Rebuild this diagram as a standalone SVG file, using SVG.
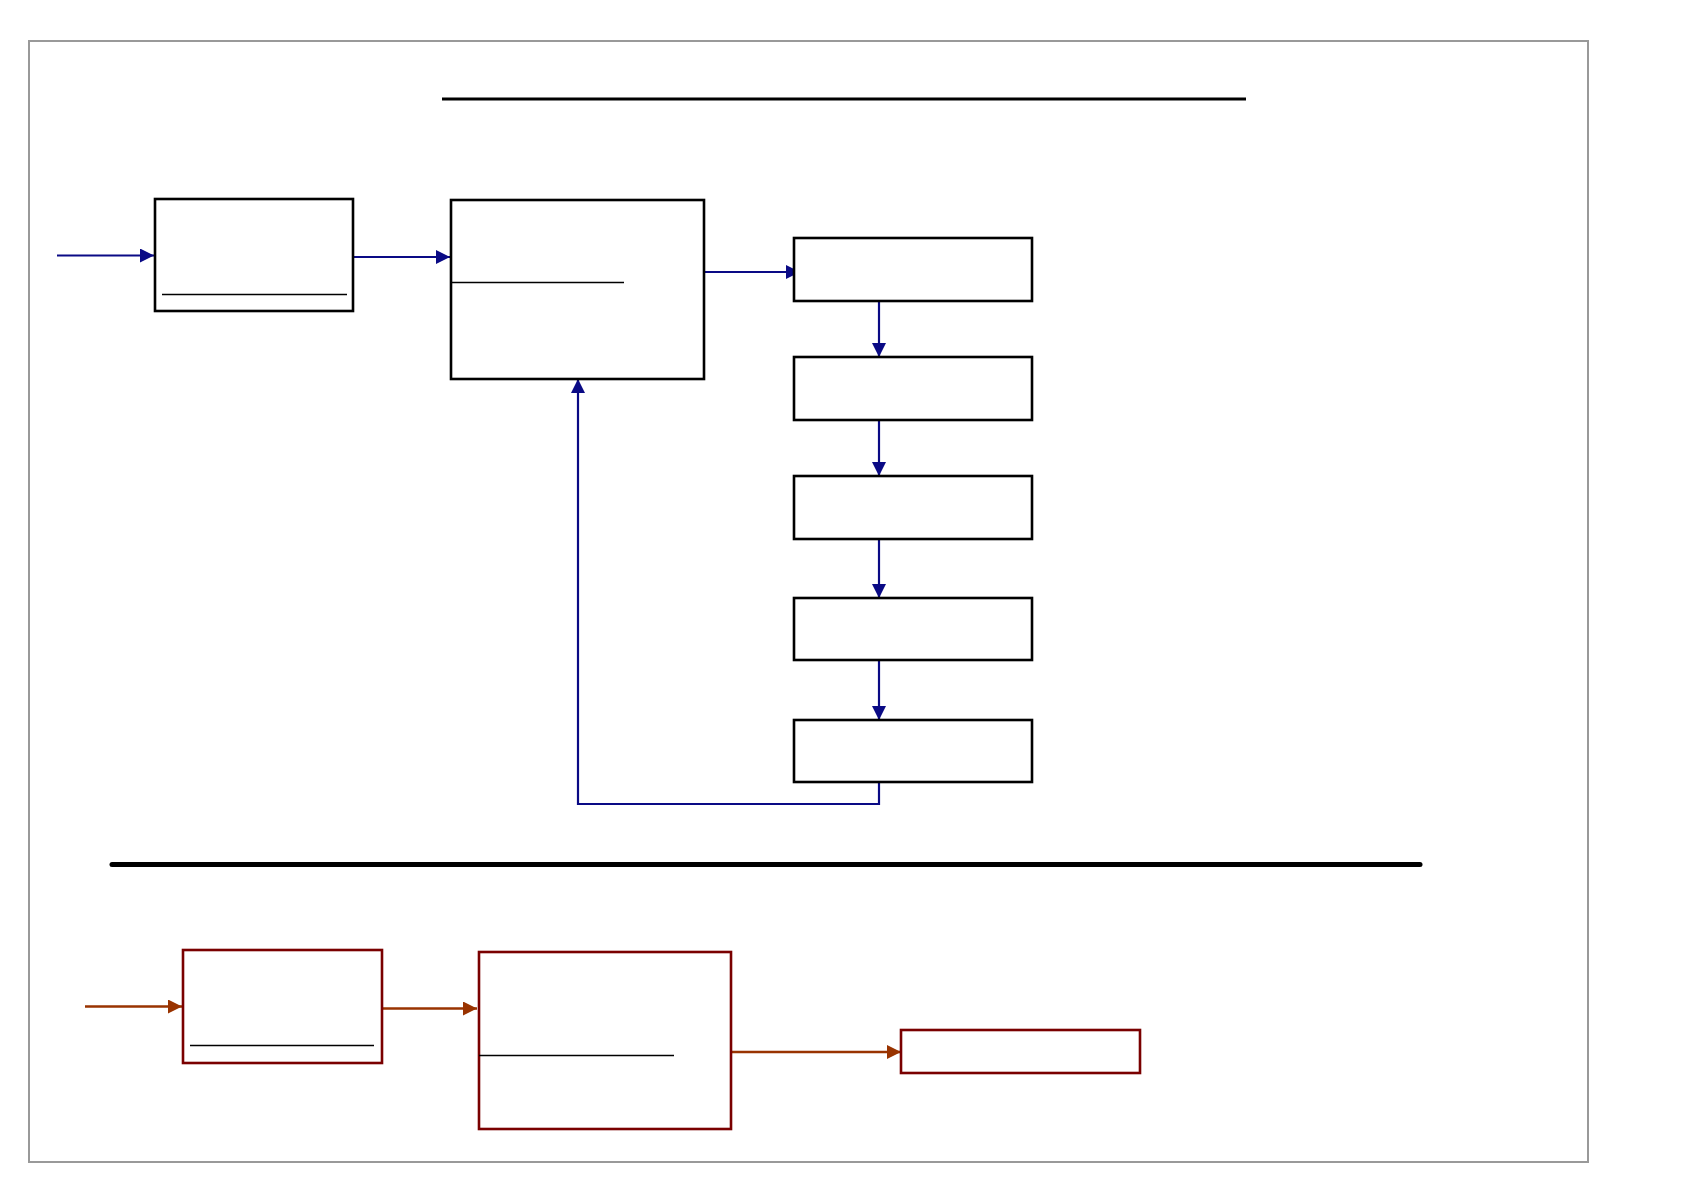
<svg xmlns="http://www.w3.org/2000/svg" width="1684" height="1190" viewBox="0 0 1684 1190">
<style>
.frame{fill:none;stroke:#999999;stroke-width:2}
.box{fill:#ffffff;stroke:#000000;stroke-width:2.6}
.rbox{fill:#ffffff;stroke:#7a0000;stroke-width:2.6}
.thin{stroke:#000000;stroke-width:1.4}
.blue{fill:none;stroke:#0a0a85;stroke-width:2.2}
.brown{fill:none;stroke:#993300;stroke-width:2.4}
</style>
<defs>
<marker id="ab" markerUnits="userSpaceOnUse" markerWidth="16" markerHeight="14" refX="14" refY="7" orient="auto"><path d="M0,0 L14,7 L0,14 Z" fill="#0a0a85"/></marker>
<marker id="ar" markerUnits="userSpaceOnUse" markerWidth="16" markerHeight="14" refX="14" refY="7" orient="auto"><path d="M0,0 L14,7 L0,14 Z" fill="#993300"/></marker>
</defs>
<rect x="0" y="0" width="1684" height="1190" fill="#ffffff"/>
<rect class="frame" x="29" y="41" width="1559" height="1121"/>
<line x1="442" y1="99" x2="1246" y2="99" stroke="#000" stroke-width="3"/>
<line x1="112" y1="864.5" x2="1420" y2="864.5" stroke="#000" stroke-width="5" stroke-linecap="round"/>
<g id="connectors">
<line class="blue" x1="57" y1="255.5" x2="154" y2="255.5" stroke-width="3" marker-end="url(#ab)"/>
<line class="blue" x1="354" y1="257" x2="450" y2="257" stroke-width="1.8" marker-end="url(#ab)"/>
<line class="blue" x1="704" y1="272" x2="800" y2="272" stroke-width="3" marker-end="url(#ab)"/>
<line class="blue" x1="879" y1="301" x2="879" y2="357" marker-end="url(#ab)"/>
<line class="blue" x1="879" y1="420" x2="879" y2="476" marker-end="url(#ab)"/>
<line class="blue" x1="879" y1="539" x2="879" y2="598" marker-end="url(#ab)"/>
<line class="blue" x1="879" y1="660" x2="879" y2="720" marker-end="url(#ab)"/>
<polyline class="blue" points="879,782 879,804 578,804 578,379" stroke-width="2.6" marker-end="url(#ab)"/>
<line class="brown" x1="85" y1="1006.5" x2="182" y2="1006.5" marker-end="url(#ar)"/>
<line class="brown" x1="382" y1="1008.5" x2="477" y2="1008.5" stroke-width="2.8" marker-end="url(#ar)"/>
<line class="brown" x1="731" y1="1052" x2="901" y2="1052" stroke-width="2" marker-end="url(#ar)"/>
</g>
<g id="n1"><rect class="box" x="155" y="199" width="198" height="112"/><line class="thin" x1="162" y1="294.5" x2="347" y2="294.5"/></g>
<g id="n2"><rect class="box" x="451" y="200" width="253" height="179"/><line class="thin" x1="451" y1="282.5" x2="624" y2="282.5"/></g>
<g id="n3"><rect class="box" x="794" y="238" width="238" height="63"/></g>
<g id="n4"><rect class="box" x="794" y="357" width="238" height="63"/></g>
<g id="n5"><rect class="box" x="794" y="476" width="238" height="63"/></g>
<g id="n6"><rect class="box" x="794" y="598" width="238" height="62"/></g>
<g id="n7"><rect class="box" x="794" y="720" width="238" height="62"/></g>
<g id="r1"><rect class="rbox" x="183" y="950" width="199" height="113"/><line class="thin" x1="190" y1="1045.5" x2="374" y2="1045.5"/></g>
<g id="r2"><rect class="rbox" x="479" y="952" width="252" height="177"/><line class="thin" x1="479" y1="1055.5" x2="674" y2="1055.5"/></g>
<g id="r3"><rect class="rbox" x="901" y="1030" width="239" height="43"/></g>
</svg>
